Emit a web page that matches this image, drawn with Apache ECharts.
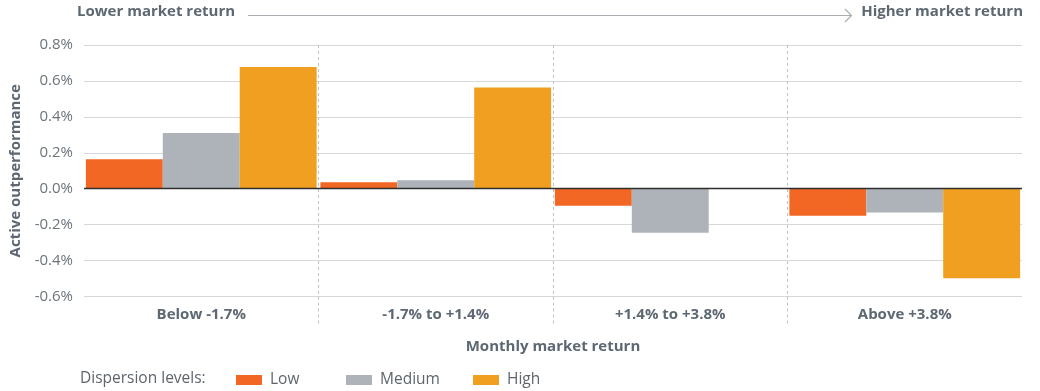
<!DOCTYPE html>
<html>
<head>
<meta charset="utf-8">
<script src="https://cdn.jsdelivr.net/npm/echarts@6/dist/echarts.min.js"></script>
<style>html,body{margin:0;padding:0;background:#fff}#c{width:1040px;height:391px}</style>
</head>
<body>
<div id="c"></div>
<script>
const categories = ['Below -1.7%', '-1.7% to +1.4%', '+1.4% to +3.8%', 'Above +3.8%'];
const lowValues = [0.164, 0.036, -0.095, -0.150];
const mediumValues = [0.310, 0.047, -0.245, -0.133];
const highValues = [0.677, 0.564, 0, -0.498];
const yTicks = { min: -0.6, max: 0.8, interval: 0.2 };

const FONT = 'Open Sans';
const BOLD_C = '#5d6873';
const LABEL_C = '#6c747a';
const LEG_C = '#5e666c';

const chart = echarts.init(document.getElementById('c'), null, { renderer: 'canvas' });
const barCommon = { type: 'bar', barGap: '0%', barCategoryGap: '1.6%', xAxisIndex: 0 };
const legendBase = {
  top: 367, itemWidth: 26, itemHeight: 10, icon: 'rect',
  textStyle: { fontFamily: FONT, fontSize: 15.5, color: LEG_C, padding: [0, 0, 0, 3] }
};
chart.setOption({
  animation: false,
  textStyle: { fontFamily: FONT },
  grid: { left: 80, right: 18, top: 45, bottom: 94.5, containLabel: false },
  legend: [
    Object.assign({}, legendBase, { left: 231, data: ['Low'] }),
    Object.assign({}, legendBase, { left: 341, data: ['Medium'] }),
    Object.assign({}, legendBase, { left: 468, data: ['High'] })
  ],
  xAxis: [{
    type: 'category',
    data: categories,
    axisLine: { show: false },
    axisTick: { show: false },
    axisLabel: { margin: 11, fontFamily: FONT, fontSize: 15, fontWeight: 'bold', color: BOLD_C },
    name: 'Monthly market return',
    nameLocation: 'middle',
    nameGap: 43,
    nameTextStyle: { fontFamily: FONT, fontSize: 15, fontWeight: 'bold', color: BOLD_C }
  }, {
    type: 'value', position: 'bottom', min: 0, max: 4, interval: 1,
    axisLine: { show: false },
    axisLabel: { show: false },
    axisTick: { show: true, customValues: [1, 2, 3], length: 29, lineStyle: { color: '#bfc3c7', type: [3, 3], width: 1 } },
    splitLine: { show: true, lineStyle: { color: '#bfc3c7', type: [3, 3], width: 1 } }
  }],
  yAxis: {
    type: 'value',
    min: yTicks.min, max: yTicks.max, interval: yTicks.interval,
    axisLine: { show: false },
    axisTick: { show: false },
    axisLabel: { margin: 11, fontFamily: FONT, fontSize: 15, color: LABEL_C, formatter: v => v.toFixed(1) + '%' },
    splitLine: { lineStyle: { color: '#d6d8da', width: 1 } },
    name: 'Active outperformance',
    nameLocation: 'middle',
    nameGap: 61,
    nameTextStyle: { fontFamily: FONT, fontSize: 15, fontWeight: 'bold', color: BOLD_C }
  },
  series: [
    Object.assign({}, barCommon, { name: 'Low', data: lowValues, itemStyle: { color: '#f26724' },
      markLine: { silent: true, symbol: 'none', label: { show: false }, lineStyle: { color: '#2f2f2f', type: 'solid', width: 1.3 }, data: [{ yAxis: 0 }], z: 10 } }),
    Object.assign({}, barCommon, { name: 'Medium', data: mediumValues, itemStyle: { color: '#adb3b8' } }),
    Object.assign({}, barCommon, { name: 'High', data: highValues, itemStyle: { color: '#f09f21' } })
  ],
  graphic: [
    { type: 'text', left: 77, top: 4, style: { text: 'Lower market return', font: 'bold 15px "' + FONT + '"', fill: BOLD_C } },
    { type: 'text', right: 17, top: 4, style: { text: 'Higher market return', font: 'bold 15px "' + FONT + '"', fill: BOLD_C } },
    { type: 'line', shape: { x1: 248, y1: 15.5, x2: 851, y2: 15.5 }, style: { stroke: '#a9adb1', lineWidth: 1.2 } },
    { type: 'polyline', shape: { points: [[845, 9], [851.5, 15.5], [845, 22]] }, style: { stroke: '#a9adb1', lineWidth: 1.2, fill: null } },
    { type: 'text', left: 80, top: 371, style: { text: 'Dispersion levels:', font: '15.5px "' + FONT + '"', fill: LEG_C } }
  ]
});
</script>
</body>
</html>
